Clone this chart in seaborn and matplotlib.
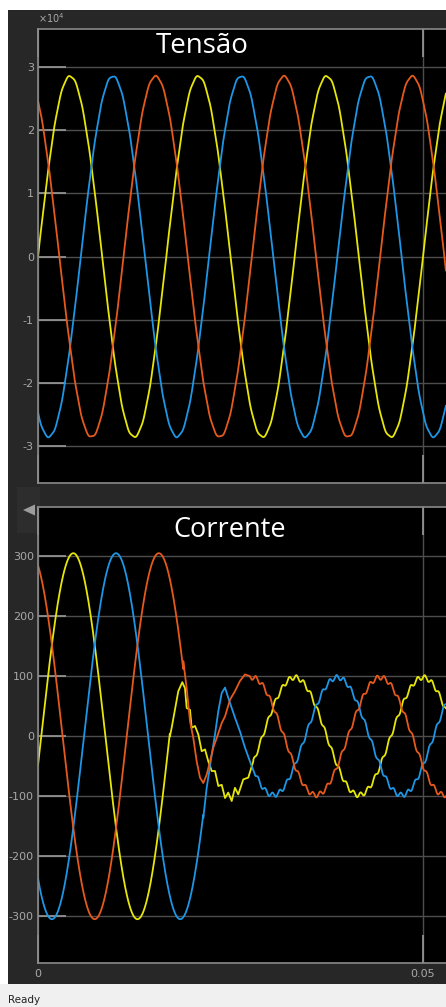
import numpy as np
import pandas as pd
import matplotlib
matplotlib.use("Agg")
import matplotlib.pyplot as plt
import seaborn as sns
from matplotlib.patches import Rectangle, Polygon

# ---------------- data ----------------
PHASES = ["A", "B", "C"]                      # yellow, blue, orange traces
COLORS = ["#e6e60a", "#1e96e6", "#e5591c"]
FREQ_HZ = 60.0
T_END_S = 0.05299                             # visible right edge of the scope

# Tensão (V): peak and phase angle of each phase
V_PEAK = [2.85e4, 2.85e4, 2.85e4]
V_ANGLE_DEG = [0.0, -120.0, 120.0]
V_RIPPLE = 90.0

# Corrente (A) before the event
I_PRE_PEAK = [305.0, 305.0, 305.0]
I_PRE_ANGLE_DEG = [-9.0, -129.0, 111.0]
# Corrente (A) after the event
I_POST_PEAK = [98.0, 98.0, 98.0]
I_POST_ANGLE_DEG = [90.0, -30.0, 210.0]
RIPPLE_HZ = 1080.0
RIPPLE_AMP = 4.0
RIPPLE_ANGLE_DEG = [0.0, 130.0, 250.0]

# transient samples (time in ms, current in A)
TR_T_A = [17.14, 17.36, 18.22, 18.74, 19.09, 19.31, 19.74, 19.96, 20.39, 20.82,
          21.26, 21.69, 22.12, 22.56, 22.99, 23.42, 23.86, 24.29, 24.71, 25.16,
          25.58, 26.01, 26.66, 27.31, 27.96]
TR_I_A = [0, 14, 75, 90, 80, 47, 44, 14, 17, 3,
          -25, -22, -42, -58, -58, -83, -81, -103, -94, -108,
          -86, -97, -72, -69, -42]
TR_T_B = [21.47, 21.91, 22.56, 22.99, 23.42, 23.86, 24.29, 24.71, 25.16, 25.58,
          26.23, 26.88, 27.53, 28.18]
TR_I_B = [-136, -86, -31, 3, 42, 72, 81, 64, 47, 31, 8, -19, -42, -64]
TR_T_C = [18.87, 19.31, 19.74, 20.17, 20.61, 21.04, 21.47, 21.91, 22.34, 22.77,
          23.21, 23.86, 24.29, 24.94, 25.58, 26.23, 26.88, 27.53]
TR_I_C = [125, 80, 25, -3, -42, -69, -78, -64, -42, -19,
          -3, 22, 33, 61, 75, 92, 103, 100]

V_TICKS = [-3e4, -2e4, -1e4, 0, 1e4, 2e4, 3e4]
V_TICK_LABELS = ["-3", "-2", "-1", "0", "1", "2", "3"]
I_TICKS = [-300, -200, -100, 0, 100, 200, 300]
I_TICK_LABELS = ["-300", "-200", "-100", "0", "100", "200", "300"]
X_TICKS = [0.0, 0.05]
X_TICK_LABELS = ["0", "0.05"]

# ---------------- build long-form tables ----------------
t = np.arange(0.0, T_END_S, 2e-5)
w = 2 * np.pi * FREQ_HZ

v_rows = []
for k, ph in enumerate(PHASES):
    v = V_PEAK[k] * np.sin(w * t + np.radians(V_ANGLE_DEG[k])) \
        + V_RIPPLE * np.sin(2 * np.pi * RIPPLE_HZ * t + np.radians(RIPPLE_ANGLE_DEG[k]))
    v_rows.append(pd.DataFrame({"t": t, "val": v, "phase": ph}))
df_v = pd.concat(v_rows, ignore_index=True)

tr_t = [TR_T_A, TR_T_B, TR_T_C]
tr_i = [TR_I_A, TR_I_B, TR_I_C]
i_rows = []
for k, ph in enumerate(PHASES):
    wt = np.array(tr_t[k]) / 1000.0
    wv = np.array(tr_i[k], dtype=float)
    tp = t[t < wt[0]]
    tq = t[t > wt[-1]]
    pre = I_PRE_PEAK[k] * np.sin(w * tp + np.radians(I_PRE_ANGLE_DEG[k]))
    post = I_POST_PEAK[k] * np.sin(w * tq + np.radians(I_POST_ANGLE_DEG[k])) \
        + RIPPLE_AMP * np.sin(2 * np.pi * RIPPLE_HZ * tq + np.radians(RIPPLE_ANGLE_DEG[k]))
    tt = np.concatenate([tp, wt, tq])
    vv = np.concatenate([pre, wv, post])
    i_rows.append(pd.DataFrame({"t": tt, "val": vv, "phase": ph}))
df_i = pd.concat(i_rows, ignore_index=True)

# ---------------- figure ----------------
sns.set_style("dark")
plt.rcParams["axes.unicode_minus"] = False
plt.rcParams["font.family"] = ["DejaVu Sans"]

W, H = 446, 1007
fig = plt.figure(figsize=(W / 100, H / 100), dpi=100, facecolor="white")


def fx(x):
    return x / W


def fy(y):
    return 1 - y / H


PANEL = "#272727"
fig.patches.append(Rectangle((fx(8), fy(984)), fx(446) - fx(8), fy(10) - fy(984),
                             transform=fig.transFigure, facecolor=PANEL,
                             edgecolor="none", zorder=-3))
fig.patches.append(Rectangle((0, 0), 1, fy(984), transform=fig.transFigure,
                             facecolor="#f0f0f0", edgecolor="none", zorder=-3))
# small collapse button between the two displays
fig.patches.append(Rectangle((fx(17), fy(533)), fx(40) - fx(17), fy(487) - fy(533),
                             transform=fig.transFigure, facecolor="#2d2d2d",
                             edgecolor="none", zorder=-2))
fig.patches.append(Polygon([(fx(23), fy(510)), (fx(35), fy(504.5)), (fx(35), fy(515.5))],
                           closed=True, transform=fig.transFigure,
                           facecolor="#9c9c9c", edgecolor="none", zorder=-1))

ax1 = fig.add_axes([fx(38), fy(483), 1 - fx(38), fy(29) - fy(483)])
ax2 = fig.add_axes([fx(38), fy(963), 1 - fx(38), fy(507) - fy(963)])
ax1.set_zorder(2)
ax2.set_zorder(2)

pal = dict(zip(PHASES, COLORS))
sns.lineplot(data=df_v, x="t", y="val", hue="phase", hue_order=PHASES, palette=pal,
             estimator=None, sort=False, legend=False, linewidth=1.3, ax=ax1)
sns.lineplot(data=df_i, x="t", y="val", hue="phase", hue_order=PHASES, palette=pal,
             estimator=None, sort=False, legend=False, linewidth=1.3, ax=ax2)

TICK_C = "#9a9a9a"
GRID_C = "#4d4d4d"
LABEL_C = "#a9a9a9"
for ax in (ax1, ax2):
    ax.set_facecolor("black")
    ax.set_xlim(0, T_END_S)
    ax.set_xticks(X_TICKS)
    ax.grid(True, color=GRID_C, linewidth=1.0)
    ax.set_axisbelow(True)
    for s in ("left", "top", "bottom"):
        ax.spines[s].set_visible(True)
        ax.spines[s].set_color("#8a8a8a")
        ax.spines[s].set_linewidth(1.2)
    ax.spines["right"].set_visible(False)
    ax.tick_params(axis="both", direction="in", length=20, width=1.2, color=TICK_C,
                   labelcolor=LABEL_C, labelsize=8, pad=3,
                   top=True, bottom=True, left=True, right=False)
    ax.set_xlabel("")
    ax.set_ylabel("")

ax1.set_ylim(-3.58e4, 3.597e4)
ax1.set_yticks(V_TICKS)
ax1.set_yticklabels(V_TICK_LABELS)
ax1.set_xticklabels(["", ""])

ax2.set_ylim(-378, 382)
ax2.set_yticks(I_TICKS)
ax2.set_yticklabels(I_TICK_LABELS)
ax2.set_xticklabels(X_TICK_LABELS)
ax2.tick_params(axis="x", pad=4)

fig.text(fx(38), fy(18), r"$\times10^{4}$", color=LABEL_C, fontsize=7,
         ha="left", va="center", zorder=5)

fig.text(fx(156), fy(53), "Tensão", color="white", fontsize=20,
         family=["Open Sans", "DejaVu Sans"], ha="left", va="baseline", zorder=5)
fig.text(fx(173), fy(537), "Corrente", color="white", fontsize=19.5,
         family=["Open Sans", "DejaVu Sans"], ha="left", va="baseline", zorder=5)

fig.text(fx(8), fy(1000), "Ready", color="#222222", fontsize=7.5,
         ha="left", va="center", zorder=5)

fig.savefig("out.png", dpi=100, facecolor="white")
